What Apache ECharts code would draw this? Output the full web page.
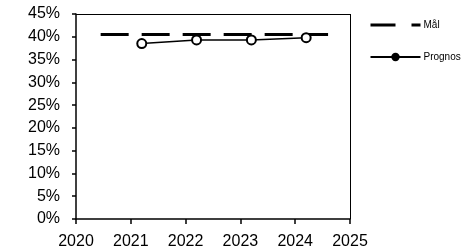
<!DOCTYPE html>
<html>
<head>
<meta charset="utf-8">
<script src="https://cdn.jsdelivr.net/npm/echarts@6/dist/echarts.min.js"></script>
<style>
  html, body { margin: 0; padding: 0; background: #fff; }
  #chart { width: 468px; height: 247px; }
</style>
</head>
<body>
<div id="chart"></div>
<script>
// ar / andel
var malData = [[2020.45, 40.5], [2024.6, 40.5]];
var prognosYears = [2021.2, 2022.2, 2023.2, 2024.2];
var prognosValues = [38.5, 39.3, 39.3, 39.8];
var seriesNames = ['Mål', 'Prognos'];

(function () {
    var myChart = echarts.init(document.getElementById('chart'));
    var option = {
        animation: false,
        backgroundColor: '#fff',
        textStyle: { fontFamily: 'Liberation Sans, Arial, sans-serif', color: '#000' },
        grid: { left: 76, right: 118, top: 14, bottom: 28, outerBoundsMode: 'none' },
        legend: {
            orient: 'vertical',
            left: 364,
            top: 15,
            itemWidth: 50,
            itemHeight: 8,
            itemGap: 22,
            textStyle: { fontSize: 10, color: '#000', padding: [0, 0, 0, -2] },
            data: [
                { name: seriesNames[0], itemStyle: { opacity: 0 }, lineStyle: { width: 3, color: '#000', type: [25, 16] } },
                { name: seriesNames[1], itemStyle: { color: '#000', borderColor: '#000' } }
            ]
        },
        xAxis: {
            type: 'value',
            min: 2020,
            max: 2025,
            interval: 1,
            axisLine: { lineStyle: { color: '#000', width: 1.5 } },
            axisTick: { show: true, length: 5, lineStyle: { color: '#000', width: 1.5 } },
            axisLabel: { fontSize: 16, color: '#000', margin: 15, formatter: function (v) { return String(v); } },
            splitLine: { show: false }
        },
        yAxis: {
            type: 'value',
            min: 0,
            max: 45,
            interval: 5,
            axisLine: { show: true, lineStyle: { color: '#000', width: 1.5 } },
            axisTick: { show: true, length: 4, lineStyle: { color: '#000', width: 1.5 } },
            axisLabel: { fontSize: 16, color: '#000', margin: 16, formatter: '{value}%' },
            splitLine: { show: false }
        },
        series: [
            {
                name: seriesNames[0],
                type: 'line',
                symbol: 'none',
                lineStyle: { color: '#000', width: 3, type: [28, 13] },
                itemStyle: { color: '#000' },
                data: malData
            },
            {
                name: seriesNames[1],
                type: 'line',
                symbol: 'circle',
                symbolSize: 9,
                lineStyle: { color: '#000', width: 1.5 },
                itemStyle: { color: '#fff', borderColor: '#000', borderWidth: 2 },
                data: prognosYears.map(function (y, i) { return [y, prognosValues[i]]; })
            },
            {
                // ram runt ritytan
                type: 'line',
                silent: true,
                symbol: 'none',
                data: [],
                markLine: {
                    silent: true,
                    symbol: 'none',
                    label: { show: false },
                    lineStyle: { color: '#000', width: 1, type: 'solid' },
                    data: [[{ coord: [2020, 45] }, { coord: [2025, 45] }],
                           [{ coord: [2025, 45] }, { coord: [2025, 0] }]]
                }
            }
        ]
    };
    myChart.setOption(option);
})();
</script>
</body>
</html>
